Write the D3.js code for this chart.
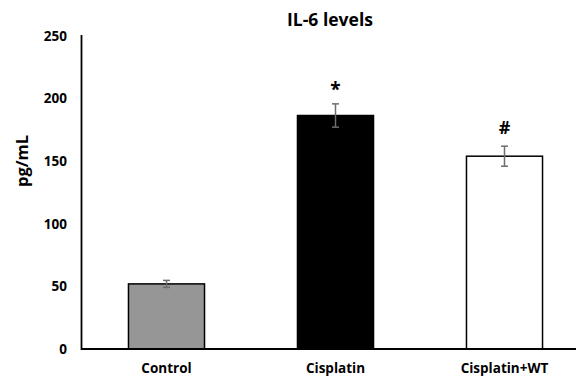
<!DOCTYPE html>
<html>
<head>
<meta charset="utf-8">
<script src="https://cdn.jsdelivr.net/npm/d3@7"></script>
<style>
  body { margin: 0; background: #fff; }
  text { font-family: "Open Sans", "DejaVu Sans", sans-serif; font-weight: bold; fill: #000; }
</style>
</head>
<body>
<div id="wrapper"></div>
<script>
const groups = ["Control", "Cisplatin", "Cisplatin+WT"];
const means = [52, 186.5, 154];
const errors = [2.8, 9.3, 8];
const marks = ["", "*", "#"];
const fills = ["#969696", "#000000", "#ffffff"];
const yTicks = [0, 50, 100, 150, 200, 250];

const width = 576, height = 376;

const svg = d3.select("#wrapper").append("svg")
    .attr("width", width)
    .attr("height", height);

const x = d3.scaleBand()
    .domain(groups)
    .range([82, 589])
    .paddingInner(0.55)
    .paddingOuter(0.275);

const y = d3.scaleLinear()
    .domain([0, 250])
    .range([349, 36]);

// title
svg.append("text")
    .attr("x", 330)
    .attr("y", 26)
    .attr("text-anchor", "middle")
    .style("font-size", "17.5px")
    .text("IL-6 levels");

// y axis label
svg.append("text")
    .attr("transform", "translate(28,161) rotate(-90)")
    .attr("text-anchor", "middle")
    .style("font-size", "16.5px")
    .text("pg/mL");

// y tick labels
svg.selectAll(".ytick")
    .data(yTicks)
    .join("text")
    .attr("class", "ytick")
    .attr("x", 67)
    .attr("y", d => y(d))
    .attr("dy", "0.35em")
    .attr("text-anchor", "end")
    .style("font-size", "13.5px")
    .text(d => d);

// bars
svg.selectAll(".bar")
    .data(groups)
    .join("rect")
    .attr("class", "bar")
    .attr("x", d => x(d))
    .attr("y", (d, i) => y(means[i]))
    .attr("width", x.bandwidth())
    .attr("height", (d, i) => y(0) - y(means[i]))
    .attr("fill", (d, i) => fills[i])
    .attr("stroke", "#000")
    .attr("stroke-width", 1.5);

// error bars
const err = svg.selectAll(".err")
    .data(groups)
    .join("g")
    .attr("class", "err")
    .attr("stroke", "#6e6e6e")
    .attr("stroke-width", 1.5);

err.append("line")
    .attr("x1", d => x(d) + x.bandwidth() / 2)
    .attr("x2", d => x(d) + x.bandwidth() / 2)
    .attr("y1", (d, i) => y(means[i] + errors[i]))
    .attr("y2", (d, i) => y(means[i] - errors[i]));
err.append("line")
    .attr("x1", d => x(d) + x.bandwidth() / 2 - 3.5)
    .attr("x2", d => x(d) + x.bandwidth() / 2 + 3.5)
    .attr("y1", (d, i) => y(means[i] + errors[i]))
    .attr("y2", (d, i) => y(means[i] + errors[i]));
err.append("line")
    .attr("x1", d => x(d) + x.bandwidth() / 2 - 3.5)
    .attr("x2", d => x(d) + x.bandwidth() / 2 + 3.5)
    .attr("y1", (d, i) => y(means[i] - errors[i]))
    .attr("y2", (d, i) => y(means[i] - errors[i]));

// significance marks
svg.selectAll(".mark")
    .data(groups)
    .join("text")
    .attr("class", "mark")
    .attr("x", d => x(d) + x.bandwidth() / 2)
    .attr("y", (d, i) => y(means[i] + errors[i]) - (i === 1 ? 8 : 12))
    .attr("text-anchor", "middle")
    .style("font-size", (d, i) => i === 1 ? "19px" : "18px")
    .text((d, i) => marks[i]);

// axes lines
svg.append("line")
    .attr("x1", 81.5).attr("x2", 81.5)
    .attr("y1", y(250) - 1).attr("y2", y(0) + 1)
    .attr("stroke", "#000").attr("stroke-width", 1.8);
svg.append("line")
    .attr("x1", 81).attr("x2", width)
    .attr("y1", y(0)).attr("y2", y(0))
    .attr("stroke", "#000").attr("stroke-width", 1.8);

// x labels
svg.selectAll(".xlab")
    .data(groups)
    .join("text")
    .attr("class", "xlab")
    .attr("x", d => x(d) + x.bandwidth() / 2)
    .attr("y", 373)
    .attr("text-anchor", "middle")
    .style("font-size", "13.5px")
    .text(d => d);
</script>
</body>
</html>
